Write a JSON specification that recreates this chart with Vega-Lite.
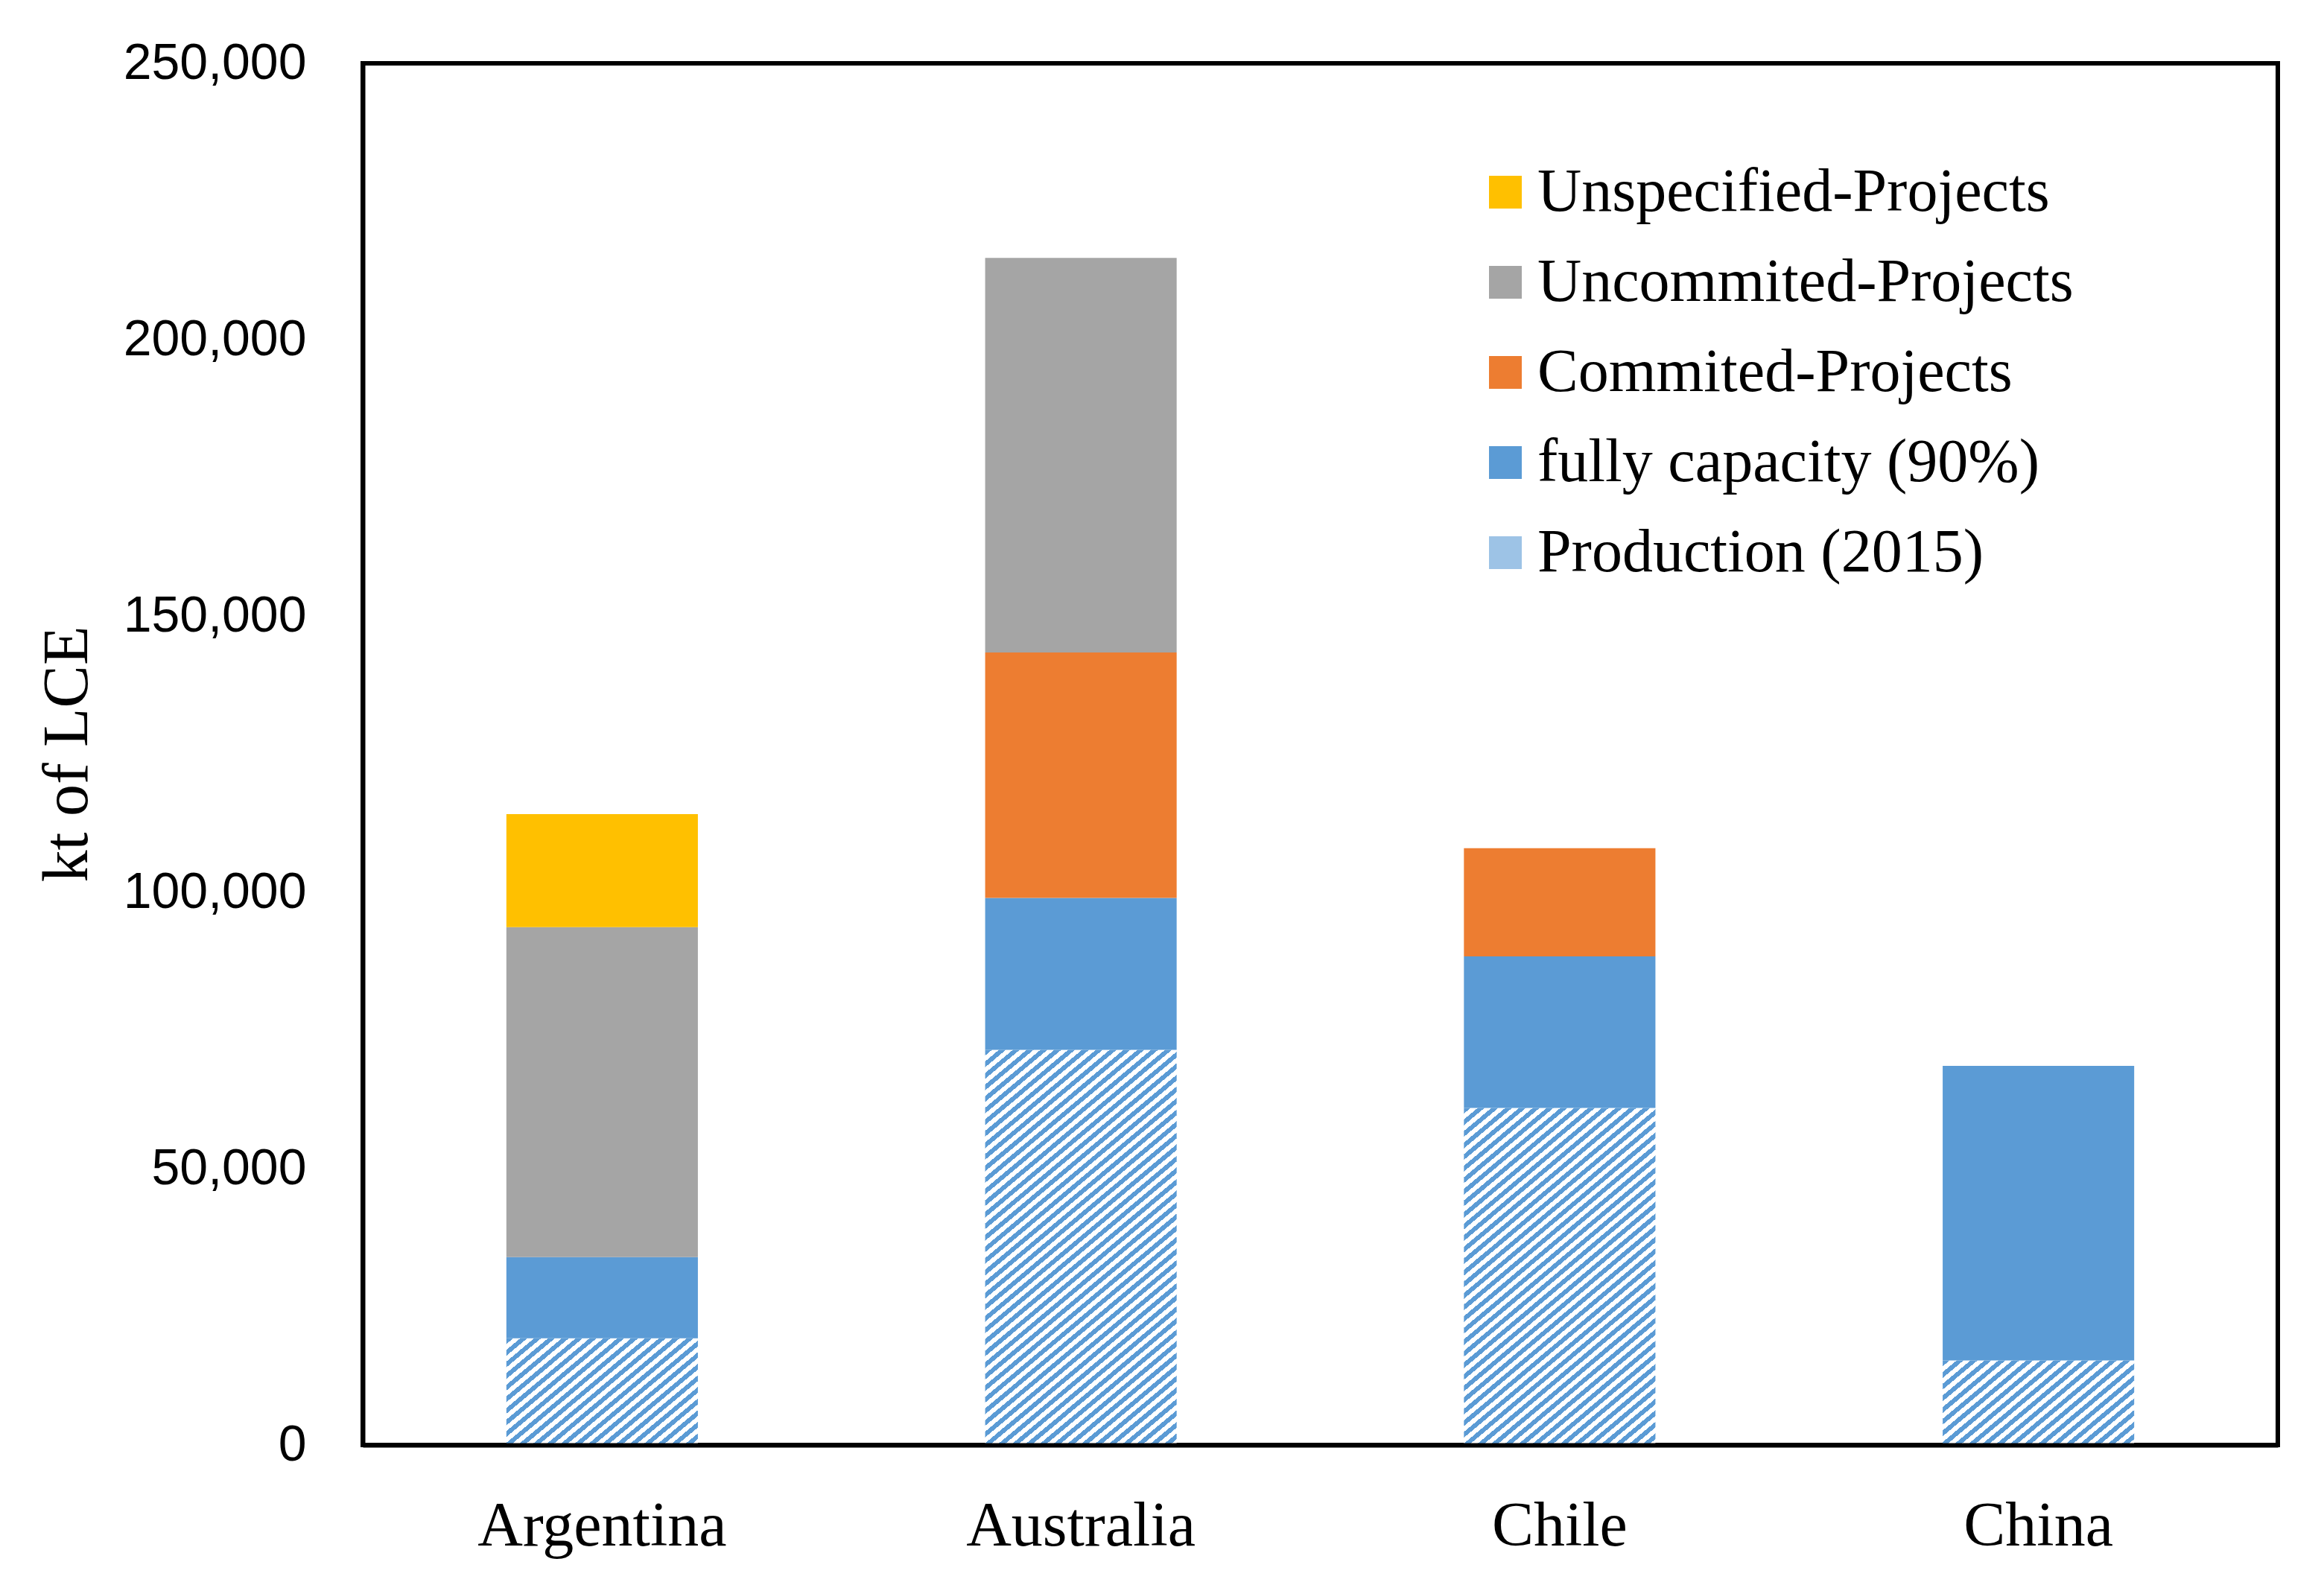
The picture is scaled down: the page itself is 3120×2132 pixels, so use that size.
{
"$schema":"https://vega.github.io/schema/vega-lite/v6.json",
"width":2571,"height":1855,
"autosize":{"type":"none"},
"padding":{"left":487,"top":85,"right":62,"bottom":192},
"background":"white",
"config":{"view":{"stroke":"black","strokeWidth":6}},
"data":{"values":[
{"country":"Argentina","category":"Production (2015)","layer":1,"value":19300},
{"country":"Argentina","category":"fully capacity (90%)","layer":2,"value":14700},
{"country":"Argentina","category":"Uncommited-Projects","layer":4,"value":59700},
{"country":"Argentina","category":"Unspecified-Projects","layer":5,"value":20450},
{"country":"Australia","category":"Production (2015)","layer":1,"value":71500},
{"country":"Australia","category":"fully capacity (90%)","layer":2,"value":27500},
{"country":"Australia","category":"Commited-Projects","layer":3,"value":44400},
{"country":"Australia","category":"Uncommited-Projects","layer":4,"value":71400},
{"country":"Chile","category":"Production (2015)","layer":1,"value":61000},
{"country":"Chile","category":"fully capacity (90%)","layer":2,"value":27400},
{"country":"Chile","category":"Commited-Projects","layer":3,"value":19600},
{"country":"China","category":"Production (2015)","layer":1,"value":15300},
{"country":"China","category":"fully capacity (90%)","layer":2,"value":53300}
]},
"mark":{"type":"bar"},
"encoding":{
"x":{"field":"country","type":"nominal","sort":["Argentina","Australia","Chile","China"],
"scale":{"paddingInner":0.6,"paddingOuter":0.3},
"axis":{"title":null,"labelAngle":0,"ticks":false,"domain":true,"domainColor":"black","domainWidth":6,"labelFont":"Liberation Serif","labelFontSize":84,"labelColor":"black","labelPadding":68,"labelLimit":1000,"zindex":1}},
"y":{"field":"value","type":"quantitative","stack":"zero","scale":{"domain":[0,250000],"nice":false},
"axis":{"title":"kt of LCE","values":[0,50000,100000,150000,200000,250000],"format":",.0f","grid":false,"ticks":false,"domain":true,"domainWidth":6,"domainColor":"black","labelFont":"Liberation Sans","labelFontSize":68,"labelColor":"black","labelPadding":76,"labelLimit":1000,"titleFont":"Liberation Serif","titleFontSize":86,"titleFontWeight":"normal","titleColor":"black","titleX":-397,"titleY":927,"titleAngle":-90,"titleAlign":"center","titleBaseline":"middle","zindex":1}},
"order":{"field":"layer","type":"quantitative"},
"fill":{"field":"category","type":"nominal",
"scale":{"domain":["Unspecified-Projects","Uncommited-Projects","Commited-Projects","fully capacity (90%)","Production (2015)"],
"range":["#ffc000","#a5a5a5","#ed7d31","#5b9bd5","#9dc3e6"]},
"legend":{"orient":"none","legendX":1493,"legendY":132,"title":null,"symbolType":"square","symbolSize":1936,"symbolStrokeWidth":0,"labelFont":"Liberation Serif","labelFontSize":82,"labelColor":"black","labelOffset":2,"rowPadding":39,"labelLimit":1200},
"condition":[
{"test":"datum.category==='Production (2015)' && datum.country==='Argentina'","value":{"gradient":"linear","x1":0,"y1":0,"x2":1.154,"y2":0.768,"stops":[
{"offset":0,"color":"#5b9bd5"},
{"offset":0.0217,"color":"#5b9bd5"},{"offset":0.0217,"color":"#fff"},
{"offset":0.0435,"color":"#fff"},{"offset":0.0435,"color":"#5b9bd5"},
{"offset":0.0652,"color":"#5b9bd5"},{"offset":0.0652,"color":"#fff"},
{"offset":0.087,"color":"#fff"},{"offset":0.087,"color":"#5b9bd5"},
{"offset":0.1087,"color":"#5b9bd5"},{"offset":0.1087,"color":"#fff"},
{"offset":0.1304,"color":"#fff"},{"offset":0.1304,"color":"#5b9bd5"},
{"offset":0.1522,"color":"#5b9bd5"},{"offset":0.1522,"color":"#fff"},
{"offset":0.1739,"color":"#fff"},{"offset":0.1739,"color":"#5b9bd5"},
{"offset":0.1957,"color":"#5b9bd5"},{"offset":0.1957,"color":"#fff"},
{"offset":0.2174,"color":"#fff"},{"offset":0.2174,"color":"#5b9bd5"},
{"offset":0.2391,"color":"#5b9bd5"},{"offset":0.2391,"color":"#fff"},
{"offset":0.2609,"color":"#fff"},{"offset":0.2609,"color":"#5b9bd5"},
{"offset":0.2826,"color":"#5b9bd5"},{"offset":0.2826,"color":"#fff"},
{"offset":0.3043,"color":"#fff"},{"offset":0.3043,"color":"#5b9bd5"},
{"offset":0.3261,"color":"#5b9bd5"},{"offset":0.3261,"color":"#fff"},
{"offset":0.3478,"color":"#fff"},{"offset":0.3478,"color":"#5b9bd5"},
{"offset":0.3696,"color":"#5b9bd5"},{"offset":0.3696,"color":"#fff"},
{"offset":0.3913,"color":"#fff"},{"offset":0.3913,"color":"#5b9bd5"},
{"offset":0.413,"color":"#5b9bd5"},{"offset":0.413,"color":"#fff"},
{"offset":0.4348,"color":"#fff"},{"offset":0.4348,"color":"#5b9bd5"},
{"offset":0.4565,"color":"#5b9bd5"},{"offset":0.4565,"color":"#fff"},
{"offset":0.4783,"color":"#fff"},{"offset":0.4783,"color":"#5b9bd5"},
{"offset":0.5,"color":"#5b9bd5"},{"offset":0.5,"color":"#fff"},
{"offset":0.5217,"color":"#fff"},{"offset":0.5217,"color":"#5b9bd5"},
{"offset":0.5435,"color":"#5b9bd5"},{"offset":0.5435,"color":"#fff"},
{"offset":0.5652,"color":"#fff"},{"offset":0.5652,"color":"#5b9bd5"},
{"offset":0.587,"color":"#5b9bd5"},{"offset":0.587,"color":"#fff"},
{"offset":0.6087,"color":"#fff"},{"offset":0.6087,"color":"#5b9bd5"},
{"offset":0.6304,"color":"#5b9bd5"},{"offset":0.6304,"color":"#fff"},
{"offset":0.6522,"color":"#fff"},{"offset":0.6522,"color":"#5b9bd5"},
{"offset":0.6739,"color":"#5b9bd5"},{"offset":0.6739,"color":"#fff"},
{"offset":0.6957,"color":"#fff"},{"offset":0.6957,"color":"#5b9bd5"},
{"offset":0.7174,"color":"#5b9bd5"},{"offset":0.7174,"color":"#fff"},
{"offset":0.7391,"color":"#fff"},{"offset":0.7391,"color":"#5b9bd5"},
{"offset":0.7609,"color":"#5b9bd5"},{"offset":0.7609,"color":"#fff"},
{"offset":0.7826,"color":"#fff"},{"offset":0.7826,"color":"#5b9bd5"},
{"offset":0.8043,"color":"#5b9bd5"},{"offset":0.8043,"color":"#fff"},
{"offset":0.8261,"color":"#fff"},{"offset":0.8261,"color":"#5b9bd5"},
{"offset":0.8478,"color":"#5b9bd5"},{"offset":0.8478,"color":"#fff"},
{"offset":0.8696,"color":"#fff"},{"offset":0.8696,"color":"#5b9bd5"},
{"offset":0.8913,"color":"#5b9bd5"},{"offset":0.8913,"color":"#fff"},
{"offset":0.913,"color":"#fff"},{"offset":0.913,"color":"#5b9bd5"},
{"offset":0.9348,"color":"#5b9bd5"},{"offset":0.9348,"color":"#fff"},
{"offset":0.9565,"color":"#fff"},{"offset":0.9565,"color":"#5b9bd5"},
{"offset":0.9783,"color":"#5b9bd5"},{"offset":0.9783,"color":"#fff"},
{"offset":1,"color":"#fff"}]}},
{"test":"datum.category==='Production (2015)' && datum.country==='China'","value":{"gradient":"linear","x1":0,"y1":0,"x2":1.195,"y2":0.63,"stops":[
{"offset":0,"color":"#5b9bd5"},
{"offset":0.0238,"color":"#5b9bd5"},{"offset":0.0238,"color":"#fff"},
{"offset":0.0476,"color":"#fff"},{"offset":0.0476,"color":"#5b9bd5"},
{"offset":0.0714,"color":"#5b9bd5"},{"offset":0.0714,"color":"#fff"},
{"offset":0.0952,"color":"#fff"},{"offset":0.0952,"color":"#5b9bd5"},
{"offset":0.119,"color":"#5b9bd5"},{"offset":0.119,"color":"#fff"},
{"offset":0.1429,"color":"#fff"},{"offset":0.1429,"color":"#5b9bd5"},
{"offset":0.1667,"color":"#5b9bd5"},{"offset":0.1667,"color":"#fff"},
{"offset":0.1905,"color":"#fff"},{"offset":0.1905,"color":"#5b9bd5"},
{"offset":0.2143,"color":"#5b9bd5"},{"offset":0.2143,"color":"#fff"},
{"offset":0.2381,"color":"#fff"},{"offset":0.2381,"color":"#5b9bd5"},
{"offset":0.2619,"color":"#5b9bd5"},{"offset":0.2619,"color":"#fff"},
{"offset":0.2857,"color":"#fff"},{"offset":0.2857,"color":"#5b9bd5"},
{"offset":0.3095,"color":"#5b9bd5"},{"offset":0.3095,"color":"#fff"},
{"offset":0.3333,"color":"#fff"},{"offset":0.3333,"color":"#5b9bd5"},
{"offset":0.3571,"color":"#5b9bd5"},{"offset":0.3571,"color":"#fff"},
{"offset":0.381,"color":"#fff"},{"offset":0.381,"color":"#5b9bd5"},
{"offset":0.4048,"color":"#5b9bd5"},{"offset":0.4048,"color":"#fff"},
{"offset":0.4286,"color":"#fff"},{"offset":0.4286,"color":"#5b9bd5"},
{"offset":0.4524,"color":"#5b9bd5"},{"offset":0.4524,"color":"#fff"},
{"offset":0.4762,"color":"#fff"},{"offset":0.4762,"color":"#5b9bd5"},
{"offset":0.5,"color":"#5b9bd5"},{"offset":0.5,"color":"#fff"},
{"offset":0.5238,"color":"#fff"},{"offset":0.5238,"color":"#5b9bd5"},
{"offset":0.5476,"color":"#5b9bd5"},{"offset":0.5476,"color":"#fff"},
{"offset":0.5714,"color":"#fff"},{"offset":0.5714,"color":"#5b9bd5"},
{"offset":0.5952,"color":"#5b9bd5"},{"offset":0.5952,"color":"#fff"},
{"offset":0.619,"color":"#fff"},{"offset":0.619,"color":"#5b9bd5"},
{"offset":0.6429,"color":"#5b9bd5"},{"offset":0.6429,"color":"#fff"},
{"offset":0.6667,"color":"#fff"},{"offset":0.6667,"color":"#5b9bd5"},
{"offset":0.6905,"color":"#5b9bd5"},{"offset":0.6905,"color":"#fff"},
{"offset":0.7143,"color":"#fff"},{"offset":0.7143,"color":"#5b9bd5"},
{"offset":0.7381,"color":"#5b9bd5"},{"offset":0.7381,"color":"#fff"},
{"offset":0.7619,"color":"#fff"},{"offset":0.7619,"color":"#5b9bd5"},
{"offset":0.7857,"color":"#5b9bd5"},{"offset":0.7857,"color":"#fff"},
{"offset":0.8095,"color":"#fff"},{"offset":0.8095,"color":"#5b9bd5"},
{"offset":0.8333,"color":"#5b9bd5"},{"offset":0.8333,"color":"#fff"},
{"offset":0.8571,"color":"#fff"},{"offset":0.8571,"color":"#5b9bd5"},
{"offset":0.881,"color":"#5b9bd5"},{"offset":0.881,"color":"#fff"},
{"offset":0.9048,"color":"#fff"},{"offset":0.9048,"color":"#5b9bd5"},
{"offset":0.9286,"color":"#5b9bd5"},{"offset":0.9286,"color":"#fff"},
{"offset":0.9524,"color":"#fff"},{"offset":0.9524,"color":"#5b9bd5"},
{"offset":0.9762,"color":"#5b9bd5"},{"offset":0.9762,"color":"#fff"},
{"offset":1,"color":"#fff"}]}},
{"test":"datum.category==='Production (2015)' && datum.country==='Chile'","value":{"gradient":"linear","x1":0,"y1":0,"x2":0.573,"y2":1.203,"stops":[
{"offset":0,"color":"#5b9bd5"},
{"offset":0.0116,"color":"#5b9bd5"},{"offset":0.0116,"color":"#fff"},
{"offset":0.0233,"color":"#fff"},{"offset":0.0233,"color":"#5b9bd5"},
{"offset":0.0349,"color":"#5b9bd5"},{"offset":0.0349,"color":"#fff"},
{"offset":0.0465,"color":"#fff"},{"offset":0.0465,"color":"#5b9bd5"},
{"offset":0.0581,"color":"#5b9bd5"},{"offset":0.0581,"color":"#fff"},
{"offset":0.0698,"color":"#fff"},{"offset":0.0698,"color":"#5b9bd5"},
{"offset":0.0814,"color":"#5b9bd5"},{"offset":0.0814,"color":"#fff"},
{"offset":0.093,"color":"#fff"},{"offset":0.093,"color":"#5b9bd5"},
{"offset":0.1047,"color":"#5b9bd5"},{"offset":0.1047,"color":"#fff"},
{"offset":0.1163,"color":"#fff"},{"offset":0.1163,"color":"#5b9bd5"},
{"offset":0.1279,"color":"#5b9bd5"},{"offset":0.1279,"color":"#fff"},
{"offset":0.1395,"color":"#fff"},{"offset":0.1395,"color":"#5b9bd5"},
{"offset":0.1512,"color":"#5b9bd5"},{"offset":0.1512,"color":"#fff"},
{"offset":0.1628,"color":"#fff"},{"offset":0.1628,"color":"#5b9bd5"},
{"offset":0.1744,"color":"#5b9bd5"},{"offset":0.1744,"color":"#fff"},
{"offset":0.186,"color":"#fff"},{"offset":0.186,"color":"#5b9bd5"},
{"offset":0.1977,"color":"#5b9bd5"},{"offset":0.1977,"color":"#fff"},
{"offset":0.2093,"color":"#fff"},{"offset":0.2093,"color":"#5b9bd5"},
{"offset":0.2209,"color":"#5b9bd5"},{"offset":0.2209,"color":"#fff"},
{"offset":0.2326,"color":"#fff"},{"offset":0.2326,"color":"#5b9bd5"},
{"offset":0.2442,"color":"#5b9bd5"},{"offset":0.2442,"color":"#fff"},
{"offset":0.2558,"color":"#fff"},{"offset":0.2558,"color":"#5b9bd5"},
{"offset":0.2674,"color":"#5b9bd5"},{"offset":0.2674,"color":"#fff"},
{"offset":0.2791,"color":"#fff"},{"offset":0.2791,"color":"#5b9bd5"},
{"offset":0.2907,"color":"#5b9bd5"},{"offset":0.2907,"color":"#fff"},
{"offset":0.3023,"color":"#fff"},{"offset":0.3023,"color":"#5b9bd5"},
{"offset":0.314,"color":"#5b9bd5"},{"offset":0.314,"color":"#fff"},
{"offset":0.3256,"color":"#fff"},{"offset":0.3256,"color":"#5b9bd5"},
{"offset":0.3372,"color":"#5b9bd5"},{"offset":0.3372,"color":"#fff"},
{"offset":0.3488,"color":"#fff"},{"offset":0.3488,"color":"#5b9bd5"},
{"offset":0.3605,"color":"#5b9bd5"},{"offset":0.3605,"color":"#fff"},
{"offset":0.3721,"color":"#fff"},{"offset":0.3721,"color":"#5b9bd5"},
{"offset":0.3837,"color":"#5b9bd5"},{"offset":0.3837,"color":"#fff"},
{"offset":0.3953,"color":"#fff"},{"offset":0.3953,"color":"#5b9bd5"},
{"offset":0.407,"color":"#5b9bd5"},{"offset":0.407,"color":"#fff"},
{"offset":0.4186,"color":"#fff"},{"offset":0.4186,"color":"#5b9bd5"},
{"offset":0.4302,"color":"#5b9bd5"},{"offset":0.4302,"color":"#fff"},
{"offset":0.4419,"color":"#fff"},{"offset":0.4419,"color":"#5b9bd5"},
{"offset":0.4535,"color":"#5b9bd5"},{"offset":0.4535,"color":"#fff"},
{"offset":0.4651,"color":"#fff"},{"offset":0.4651,"color":"#5b9bd5"},
{"offset":0.4767,"color":"#5b9bd5"},{"offset":0.4767,"color":"#fff"},
{"offset":0.4884,"color":"#fff"},{"offset":0.4884,"color":"#5b9bd5"},
{"offset":0.5,"color":"#5b9bd5"},{"offset":0.5,"color":"#fff"},
{"offset":0.5116,"color":"#fff"},{"offset":0.5116,"color":"#5b9bd5"},
{"offset":0.5233,"color":"#5b9bd5"},{"offset":0.5233,"color":"#fff"},
{"offset":0.5349,"color":"#fff"},{"offset":0.5349,"color":"#5b9bd5"},
{"offset":0.5465,"color":"#5b9bd5"},{"offset":0.5465,"color":"#fff"},
{"offset":0.5581,"color":"#fff"},{"offset":0.5581,"color":"#5b9bd5"},
{"offset":0.5698,"color":"#5b9bd5"},{"offset":0.5698,"color":"#fff"},
{"offset":0.5814,"color":"#fff"},{"offset":0.5814,"color":"#5b9bd5"},
{"offset":0.593,"color":"#5b9bd5"},{"offset":0.593,"color":"#fff"},
{"offset":0.6047,"color":"#fff"},{"offset":0.6047,"color":"#5b9bd5"},
{"offset":0.6163,"color":"#5b9bd5"},{"offset":0.6163,"color":"#fff"},
{"offset":0.6279,"color":"#fff"},{"offset":0.6279,"color":"#5b9bd5"},
{"offset":0.6395,"color":"#5b9bd5"},{"offset":0.6395,"color":"#fff"},
{"offset":0.6512,"color":"#fff"},{"offset":0.6512,"color":"#5b9bd5"},
{"offset":0.6628,"color":"#5b9bd5"},{"offset":0.6628,"color":"#fff"},
{"offset":0.6744,"color":"#fff"},{"offset":0.6744,"color":"#5b9bd5"},
{"offset":0.686,"color":"#5b9bd5"},{"offset":0.686,"color":"#fff"},
{"offset":0.6977,"color":"#fff"},{"offset":0.6977,"color":"#5b9bd5"},
{"offset":0.7093,"color":"#5b9bd5"},{"offset":0.7093,"color":"#fff"},
{"offset":0.7209,"color":"#fff"},{"offset":0.7209,"color":"#5b9bd5"},
{"offset":0.7326,"color":"#5b9bd5"},{"offset":0.7326,"color":"#fff"},
{"offset":0.7442,"color":"#fff"},{"offset":0.7442,"color":"#5b9bd5"},
{"offset":0.7558,"color":"#5b9bd5"},{"offset":0.7558,"color":"#fff"},
{"offset":0.7674,"color":"#fff"},{"offset":0.7674,"color":"#5b9bd5"},
{"offset":0.7791,"color":"#5b9bd5"},{"offset":0.7791,"color":"#fff"},
{"offset":0.7907,"color":"#fff"},{"offset":0.7907,"color":"#5b9bd5"},
{"offset":0.8023,"color":"#5b9bd5"},{"offset":0.8023,"color":"#fff"},
{"offset":0.814,"color":"#fff"},{"offset":0.814,"color":"#5b9bd5"},
{"offset":0.8256,"color":"#5b9bd5"},{"offset":0.8256,"color":"#fff"},
{"offset":0.8372,"color":"#fff"},{"offset":0.8372,"color":"#5b9bd5"},
{"offset":0.8488,"color":"#5b9bd5"},{"offset":0.8488,"color":"#fff"},
{"offset":0.8605,"color":"#fff"},{"offset":0.8605,"color":"#5b9bd5"},
{"offset":0.8721,"color":"#5b9bd5"},{"offset":0.8721,"color":"#fff"},
{"offset":0.8837,"color":"#fff"},{"offset":0.8837,"color":"#5b9bd5"},
{"offset":0.8953,"color":"#5b9bd5"},{"offset":0.8953,"color":"#fff"},
{"offset":0.907,"color":"#fff"},{"offset":0.907,"color":"#5b9bd5"},
{"offset":0.9186,"color":"#5b9bd5"},{"offset":0.9186,"color":"#fff"},
{"offset":0.9302,"color":"#fff"},{"offset":0.9302,"color":"#5b9bd5"},
{"offset":0.9419,"color":"#5b9bd5"},{"offset":0.9419,"color":"#fff"},
{"offset":0.9535,"color":"#fff"},{"offset":0.9535,"color":"#5b9bd5"},
{"offset":0.9651,"color":"#5b9bd5"},{"offset":0.9651,"color":"#fff"},
{"offset":0.9767,"color":"#fff"},{"offset":0.9767,"color":"#5b9bd5"},
{"offset":0.9884,"color":"#5b9bd5"},{"offset":0.9884,"color":"#fff"},
{"offset":1,"color":"#fff"}]}},
{"test":"datum.category==='Production (2015)' && datum.country==='Australia'","value":{"gradient":"linear","x1":0,"y1":0,"x2":0.489,"y2":1.207,"stops":[
{"offset":0,"color":"#5b9bd5"},
{"offset":0.0104,"color":"#5b9bd5"},{"offset":0.0104,"color":"#fff"},
{"offset":0.0208,"color":"#fff"},{"offset":0.0208,"color":"#5b9bd5"},
{"offset":0.0313,"color":"#5b9bd5"},{"offset":0.0313,"color":"#fff"},
{"offset":0.0417,"color":"#fff"},{"offset":0.0417,"color":"#5b9bd5"},
{"offset":0.0521,"color":"#5b9bd5"},{"offset":0.0521,"color":"#fff"},
{"offset":0.0625,"color":"#fff"},{"offset":0.0625,"color":"#5b9bd5"},
{"offset":0.0729,"color":"#5b9bd5"},{"offset":0.0729,"color":"#fff"},
{"offset":0.0833,"color":"#fff"},{"offset":0.0833,"color":"#5b9bd5"},
{"offset":0.0938,"color":"#5b9bd5"},{"offset":0.0938,"color":"#fff"},
{"offset":0.1042,"color":"#fff"},{"offset":0.1042,"color":"#5b9bd5"},
{"offset":0.1146,"color":"#5b9bd5"},{"offset":0.1146,"color":"#fff"},
{"offset":0.125,"color":"#fff"},{"offset":0.125,"color":"#5b9bd5"},
{"offset":0.1354,"color":"#5b9bd5"},{"offset":0.1354,"color":"#fff"},
{"offset":0.1458,"color":"#fff"},{"offset":0.1458,"color":"#5b9bd5"},
{"offset":0.1563,"color":"#5b9bd5"},{"offset":0.1563,"color":"#fff"},
{"offset":0.1667,"color":"#fff"},{"offset":0.1667,"color":"#5b9bd5"},
{"offset":0.1771,"color":"#5b9bd5"},{"offset":0.1771,"color":"#fff"},
{"offset":0.1875,"color":"#fff"},{"offset":0.1875,"color":"#5b9bd5"},
{"offset":0.1979,"color":"#5b9bd5"},{"offset":0.1979,"color":"#fff"},
{"offset":0.2083,"color":"#fff"},{"offset":0.2083,"color":"#5b9bd5"},
{"offset":0.2188,"color":"#5b9bd5"},{"offset":0.2188,"color":"#fff"},
{"offset":0.2292,"color":"#fff"},{"offset":0.2292,"color":"#5b9bd5"},
{"offset":0.2396,"color":"#5b9bd5"},{"offset":0.2396,"color":"#fff"},
{"offset":0.25,"color":"#fff"},{"offset":0.25,"color":"#5b9bd5"},
{"offset":0.2604,"color":"#5b9bd5"},{"offset":0.2604,"color":"#fff"},
{"offset":0.2708,"color":"#fff"},{"offset":0.2708,"color":"#5b9bd5"},
{"offset":0.2813,"color":"#5b9bd5"},{"offset":0.2813,"color":"#fff"},
{"offset":0.2917,"color":"#fff"},{"offset":0.2917,"color":"#5b9bd5"},
{"offset":0.3021,"color":"#5b9bd5"},{"offset":0.3021,"color":"#fff"},
{"offset":0.3125,"color":"#fff"},{"offset":0.3125,"color":"#5b9bd5"},
{"offset":0.3229,"color":"#5b9bd5"},{"offset":0.3229,"color":"#fff"},
{"offset":0.3333,"color":"#fff"},{"offset":0.3333,"color":"#5b9bd5"},
{"offset":0.3438,"color":"#5b9bd5"},{"offset":0.3438,"color":"#fff"},
{"offset":0.3542,"color":"#fff"},{"offset":0.3542,"color":"#5b9bd5"},
{"offset":0.3646,"color":"#5b9bd5"},{"offset":0.3646,"color":"#fff"},
{"offset":0.375,"color":"#fff"},{"offset":0.375,"color":"#5b9bd5"},
{"offset":0.3854,"color":"#5b9bd5"},{"offset":0.3854,"color":"#fff"},
{"offset":0.3958,"color":"#fff"},{"offset":0.3958,"color":"#5b9bd5"},
{"offset":0.4063,"color":"#5b9bd5"},{"offset":0.4063,"color":"#fff"},
{"offset":0.4167,"color":"#fff"},{"offset":0.4167,"color":"#5b9bd5"},
{"offset":0.4271,"color":"#5b9bd5"},{"offset":0.4271,"color":"#fff"},
{"offset":0.4375,"color":"#fff"},{"offset":0.4375,"color":"#5b9bd5"},
{"offset":0.4479,"color":"#5b9bd5"},{"offset":0.4479,"color":"#fff"},
{"offset":0.4583,"color":"#fff"},{"offset":0.4583,"color":"#5b9bd5"},
{"offset":0.4688,"color":"#5b9bd5"},{"offset":0.4688,"color":"#fff"},
{"offset":0.4792,"color":"#fff"},{"offset":0.4792,"color":"#5b9bd5"},
{"offset":0.4896,"color":"#5b9bd5"},{"offset":0.4896,"color":"#fff"},
{"offset":0.5,"color":"#fff"},{"offset":0.5,"color":"#5b9bd5"},
{"offset":0.5104,"color":"#5b9bd5"},{"offset":0.5104,"color":"#fff"},
{"offset":0.5208,"color":"#fff"},{"offset":0.5208,"color":"#5b9bd5"},
{"offset":0.5313,"color":"#5b9bd5"},{"offset":0.5313,"color":"#fff"},
{"offset":0.5417,"color":"#fff"},{"offset":0.5417,"color":"#5b9bd5"},
{"offset":0.5521,"color":"#5b9bd5"},{"offset":0.5521,"color":"#fff"},
{"offset":0.5625,"color":"#fff"},{"offset":0.5625,"color":"#5b9bd5"},
{"offset":0.5729,"color":"#5b9bd5"},{"offset":0.5729,"color":"#fff"},
{"offset":0.5833,"color":"#fff"},{"offset":0.5833,"color":"#5b9bd5"},
{"offset":0.5938,"color":"#5b9bd5"},{"offset":0.5938,"color":"#fff"},
{"offset":0.6042,"color":"#fff"},{"offset":0.6042,"color":"#5b9bd5"},
{"offset":0.6146,"color":"#5b9bd5"},{"offset":0.6146,"color":"#fff"},
{"offset":0.625,"color":"#fff"},{"offset":0.625,"color":"#5b9bd5"},
{"offset":0.6354,"color":"#5b9bd5"},{"offset":0.6354,"color":"#fff"},
{"offset":0.6458,"color":"#fff"},{"offset":0.6458,"color":"#5b9bd5"},
{"offset":0.6563,"color":"#5b9bd5"},{"offset":0.6563,"color":"#fff"},
{"offset":0.6667,"color":"#fff"},{"offset":0.6667,"color":"#5b9bd5"},
{"offset":0.6771,"color":"#5b9bd5"},{"offset":0.6771,"color":"#fff"},
{"offset":0.6875,"color":"#fff"},{"offset":0.6875,"color":"#5b9bd5"},
{"offset":0.6979,"color":"#5b9bd5"},{"offset":0.6979,"color":"#fff"},
{"offset":0.7083,"color":"#fff"},{"offset":0.7083,"color":"#5b9bd5"},
{"offset":0.7188,"color":"#5b9bd5"},{"offset":0.7188,"color":"#fff"},
{"offset":0.7292,"color":"#fff"},{"offset":0.7292,"color":"#5b9bd5"},
{"offset":0.7396,"color":"#5b9bd5"},{"offset":0.7396,"color":"#fff"},
{"offset":0.75,"color":"#fff"},{"offset":0.75,"color":"#5b9bd5"},
{"offset":0.7604,"color":"#5b9bd5"},{"offset":0.7604,"color":"#fff"},
{"offset":0.7708,"color":"#fff"},{"offset":0.7708,"color":"#5b9bd5"},
{"offset":0.7813,"color":"#5b9bd5"},{"offset":0.7813,"color":"#fff"},
{"offset":0.7917,"color":"#fff"},{"offset":0.7917,"color":"#5b9bd5"},
{"offset":0.8021,"color":"#5b9bd5"},{"offset":0.8021,"color":"#fff"},
{"offset":0.8125,"color":"#fff"},{"offset":0.8125,"color":"#5b9bd5"},
{"offset":0.8229,"color":"#5b9bd5"},{"offset":0.8229,"color":"#fff"},
{"offset":0.8333,"color":"#fff"},{"offset":0.8333,"color":"#5b9bd5"},
{"offset":0.8438,"color":"#5b9bd5"},{"offset":0.8438,"color":"#fff"},
{"offset":0.8542,"color":"#fff"},{"offset":0.8542,"color":"#5b9bd5"},
{"offset":0.8646,"color":"#5b9bd5"},{"offset":0.8646,"color":"#fff"},
{"offset":0.875,"color":"#fff"},{"offset":0.875,"color":"#5b9bd5"},
{"offset":0.8854,"color":"#5b9bd5"},{"offset":0.8854,"color":"#fff"},
{"offset":0.8958,"color":"#fff"},{"offset":0.8958,"color":"#5b9bd5"},
{"offset":0.9063,"color":"#5b9bd5"},{"offset":0.9063,"color":"#fff"},
{"offset":0.9167,"color":"#fff"},{"offset":0.9167,"color":"#5b9bd5"},
{"offset":0.9271,"color":"#5b9bd5"},{"offset":0.9271,"color":"#fff"},
{"offset":0.9375,"color":"#fff"},{"offset":0.9375,"color":"#5b9bd5"},
{"offset":0.9479,"color":"#5b9bd5"},{"offset":0.9479,"color":"#fff"},
{"offset":0.9583,"color":"#fff"},{"offset":0.9583,"color":"#5b9bd5"},
{"offset":0.9688,"color":"#5b9bd5"},{"offset":0.9688,"color":"#fff"},
{"offset":0.9792,"color":"#fff"},{"offset":0.9792,"color":"#5b9bd5"},
{"offset":0.9896,"color":"#5b9bd5"},{"offset":0.9896,"color":"#fff"},
{"offset":1,"color":"#fff"}]}}
]}
}
}
